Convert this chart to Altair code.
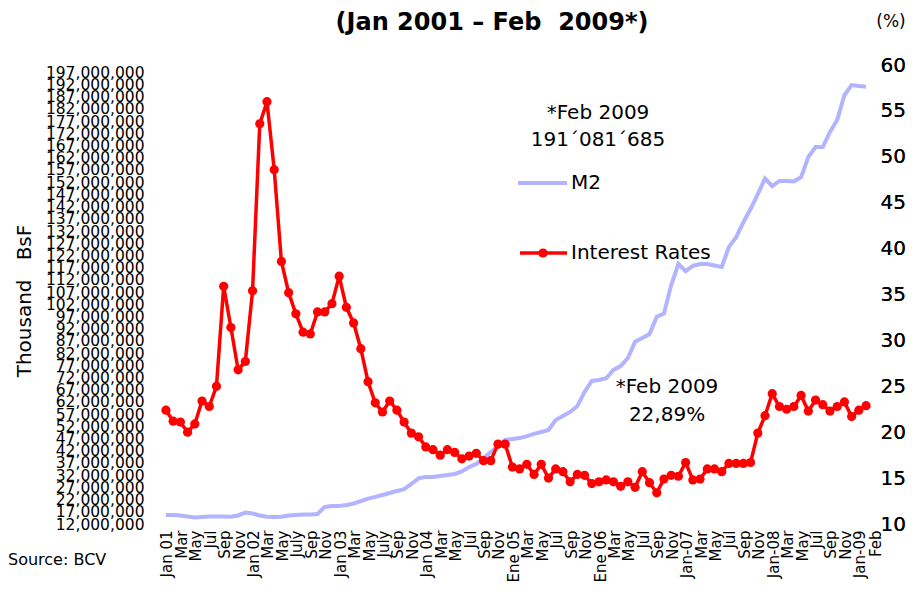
import json
import altair as alt
import pandas as pd

# ---------------- data ----------------
# Interest rates (%), monthly Jan 2001 .. Feb 2009
rates_2001 = [22.4, 21.2, 21.1, 20.0, 20.9, 23.4, 22.8, 25.0, 35.9, 31.4, 26.8, 27.7]
rates_2002 = [35.4, 53.6, 56.0, 48.6, 38.6, 35.2, 32.9, 30.9, 30.7, 33.1, 33.1, 34.0]
rates_2003 = [37.0, 33.6, 31.9, 29.1, 25.5, 23.2, 22.2, 23.4, 22.4, 21.1, 19.9, 19.5]
rates_2004 = [18.4, 18.1, 17.5, 18.1, 17.8, 17.1, 17.4, 17.7, 16.9, 16.9, 18.7, 18.7]
rates_2005 = [16.2, 16.0, 16.5, 15.4, 16.5, 15.0, 16.0, 15.7, 14.6, 15.4, 15.3, 14.4]
rates_2006 = [14.6, 14.8, 14.6, 14.1, 14.6, 14.0, 15.7, 14.5, 13.4, 14.9, 15.3, 15.2]
rates_2007 = [16.7, 14.8, 14.9, 16.0, 16.0, 15.7, 16.6, 16.6, 16.6, 16.7, 19.9, 21.8]
rates_2008 = [24.2, 22.8, 22.5, 22.8, 24.0, 22.3, 23.5, 23.0, 22.3, 22.8, 23.3, 21.7]
rates_2009 = [22.4, 22.89]

# M2 (millions of thousand BsF), monthly Jan 2001 .. Feb 2009
m2_2001 = [15.7, 15.7, 15.5, 15.1, 14.7, 14.9, 15.1, 15.1, 15.1, 15.0, 15.5, 16.7]
m2_2002 = [16.3, 15.5, 15.0, 14.9, 15.0, 15.5, 15.7, 15.9, 15.9, 16.1, 19.0, 19.4]
m2_2003 = [19.4, 19.8, 20.4, 21.4, 22.4, 23.1, 23.9, 24.7, 25.5, 26.3, 28.4, 30.7]
m2_2004 = [31.3, 31.3, 31.7, 32.1, 32.5, 33.5, 35.3, 36.6, 39.0, 41.5, 43.7, 46.4]
m2_2005 = [46.8, 47.2, 48.0, 48.9, 49.7, 50.5, 54.6, 56.2, 57.9, 60.3, 66.1, 70.6]
m2_2006 = [71.0, 71.7, 75.1, 76.7, 80.0, 86.7, 88.2, 89.8, 96.9, 98.2, 109.9, 118.5]
m2_2007 = [115.6, 117.7, 118.5, 118.5, 117.9, 117.3, 125.5, 129.5, 135.6, 141.0, 147.1, 153.5]
m2_2008 = [150.4, 152.5, 152.5, 152.3, 154.1, 162.3, 166.4, 166.4, 172.6, 177.5, 187.7, 191.8]
m2_2009 = [191.4, 191.081685]

# x-axis tick labels (every second month, plus Feb 2009)
tick_index = list(range(0, 97, 2)) + [97]
tick_labels = ["Jan 01", "Mar", "May", "Jul", "Sep", "Nov",
               "Jan 02", "Mar", "May", "July", "Sep", "Nov",
               "Jan 03", "Mar", "May", "July", "Sep", "Nov",
               "Jan 04", "Mar", "May", "Jul", "Sep", "Nov",
               "Ene 05", "Mar", "May", "Jul", "Sep", "Nov",
               "Ene 06", "Mar", "May", "Jul", "Sep", "Nov",
               "Jan-07", "Mar", "May", "Jul", "Sep", "Nov",
               "Jan-08", "Mar", "May", "Jul", "Sep", "Nov",
               "Jan-09", "Feb"]

left_ticks = list(range(12_000_000, 197_000_001, 5_000_000))
right_ticks = list(range(10, 61, 5))

# ---------------- build table ----------------
rates = (rates_2001 + rates_2002 + rates_2003 + rates_2004 + rates_2005
         + rates_2006 + rates_2007 + rates_2008 + rates_2009)
m2 = (m2_2001 + m2_2002 + m2_2003 + m2_2004 + m2_2005
      + m2_2006 + m2_2007 + m2_2008 + m2_2009)
n = len(rates)
df = pd.DataFrame({"i": list(range(n)), "rate": rates, "m2": [v * 1_000_000 for v in m2]})

label_arr = [""] * n
for k, lab in zip(tick_index, tick_labels):
    label_arr[k] = lab
label_expr = json.dumps(label_arr) + "[datum.value]"

FONT = "DejaVu Sans"
W, H = 716, 459
NB = "\u00a0"

x_enc = alt.X("i:Q",
              scale=alt.Scale(domain=[-1.1, 98.1], nice=False, zero=False),
              axis=alt.Axis(values=tick_index, labelExpr=label_expr, title=None,
                            labelAngle=-90, labelAlign="right", labelBaseline="middle",
                            labelFontSize=15, labelFont=FONT, labelPadding=6,
                            labelOverlap=False, labelFlush=False,
                            labelOffset={"condition": {"test": "datum.value == 97", "value": 9},
                                         "value": 1}))

m2_line = alt.Chart(df).mark_line(color="#b3b3ff", strokeWidth=4).encode(
    x=x_enc,
    y=alt.Y("m2:Q",
            scale=alt.Scale(domain=[12_000_000, 200_000_000], nice=False, zero=False),
            axis=alt.Axis(orient="left", values=left_ticks, format=",d", title=None,
                          labelFontSize=15.5, labelFont=FONT, labelPadding=14,
                          labelOverlap=False, labelFlush=False)),
)

rate_y = alt.Y("rate:Q",
               scale=alt.Scale(domain=[10, 60], nice=False, zero=False),
               axis=alt.Axis(orient="right", values=right_ticks, format="d", title=None,
                             labelFontSize=20, labelFont=FONT, labelPadding=6,
                             labelOverlap=False, labelFlush=False))

rate_line = alt.Chart(df).mark_line(color="#ff0000", strokeWidth=3.5).encode(x=x_enc, y=rate_y)
rate_pts = alt.Chart(df).mark_point(color="#ff0000", filled=True, opacity=1, size=85).encode(
    x=x_enc, y=rate_y)

one = pd.DataFrame({"d": [0]})


def txt(s, x, y, size=20, align="center", weight="normal", angle=0):
    return alt.Chart(one).mark_text(text=s, fontSize=size, font=FONT, align=align,
                                    baseline="middle", fontWeight=weight, angle=angle,
                                    color="black").encode(x=alt.value(x), y=alt.value(y))


title = txt("(Jan 2001 \u2013 Feb" + NB + NB + "2009*)", 334, -42, size=24, weight="bold")
pct = txt("(%)", 733, -43, size=17)
note1a = txt("*Feb 2009", 440, 48)
note1b = txt("191\u00b4081\u00b4685", 440, 75)
note2a = txt("*Feb 2009", 509, 322)
note2b = txt("22,89%", 509, 350)
leg_m2_txt = txt("M2", 413, 118, align="left")
leg_ir_txt = txt("Interest Rates", 413, 188, align="left")
ytitle = txt("Thousand" + NB + NB + NB + "BsF", -133, 236, size=20, angle=270)
source = txt("Source: BCV", -150, 495, size=16, align="left")

leg_m2_line = alt.Chart(one).mark_rule(color="#b3b3ff", strokeWidth=4).encode(
    x=alt.value(360), x2=alt.value(409), y=alt.value(118))
leg_ir_line = alt.Chart(one).mark_rule(color="#ff0000", strokeWidth=3.5).encode(
    x=alt.value(362), x2=alt.value(409), y=alt.value(188))
leg_ir_pt = alt.Chart(one).mark_point(color="#ff0000", filled=True, opacity=1, size=85).encode(
    x=alt.value(385), y=alt.value(188))

chart = alt.layer(
    m2_line, rate_line, rate_pts,
    title, pct, note1a, note1b, note2a, note2b,
    leg_m2_line, leg_m2_txt, leg_ir_line, leg_ir_pt, leg_ir_txt,
    ytitle, source,
).resolve_scale(y="independent").properties(
    width=W, height=H,
    autosize=alt.AutoSizeParams(type="none"),
    padding={"left": 150, "top": 57, "right": 34, "bottom": 63},
).configure_axis(
    grid=False, domain=False, ticks=False, labelColor="black",
).configure_view(stroke=None)

chart.save("out.html", embed_options={"renderer": "svg", "actions": False})
